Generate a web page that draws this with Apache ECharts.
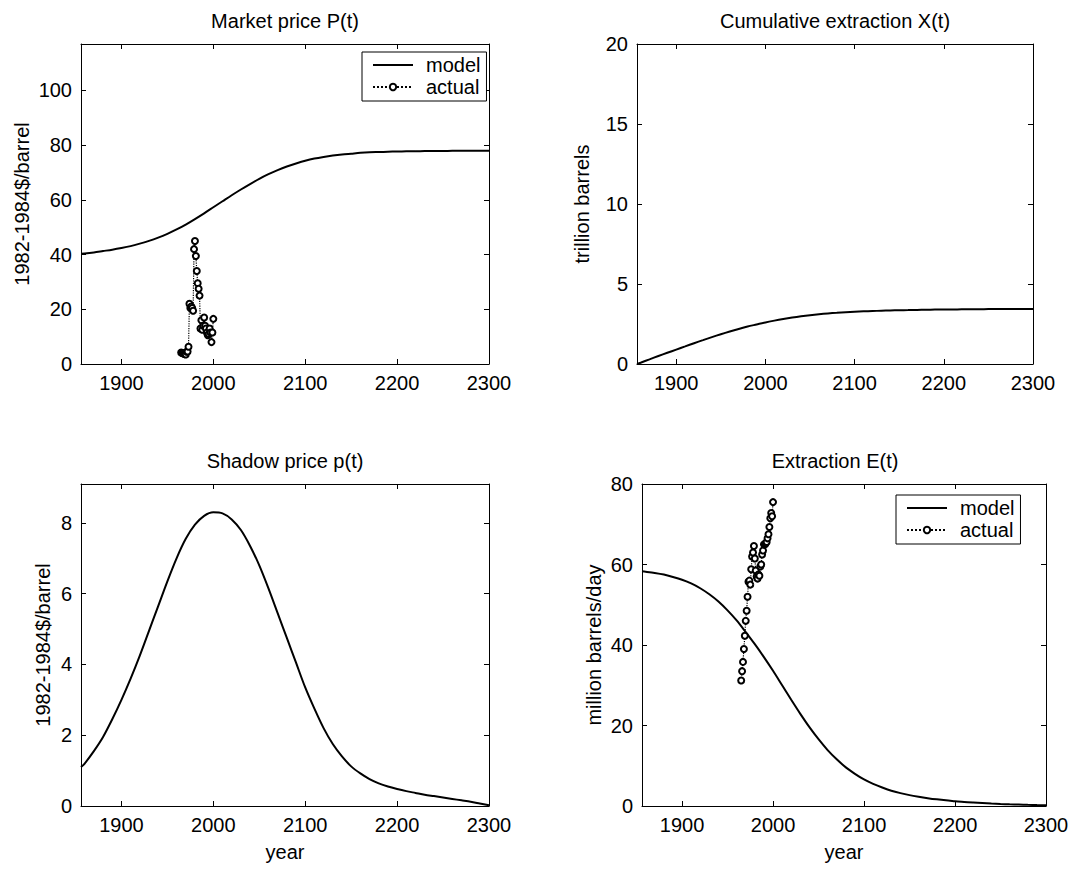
<!DOCTYPE html>
<html><head><meta charset="utf-8">
<script src="https://cdn.jsdelivr.net/npm/echarts@6/dist/echarts.min.js"></script>
<style>html,body{margin:0;padding:0;background:#fff}#c{width:1080px;height:870px}</style>
</head><body><div id="c"></div>
<script>
// ---------- data ----------
const modelYears = [1856,1860,1870,1880,1890,1900,1910,1920,1930,1940,1950,1960,1970,1980,1990,2000,2010,2020,2030,2040,2050,2060,2070,2080,2090,2100,2110,2120,2130,2140,2150,2160,2170,2180,2190,2200,2210,2220,2230,2240,2250,2260,2270,2280,2290,2300];
const marketPrice = [40.3,40.4,40.8,41.3,41.8,42.4,43.1,44.0,45.0,46.2,47.6,49.2,51.0,53.0,55.1,57.3,59.5,61.7,63.8,65.8,67.7,69.4,70.9,72.2,73.3,74.3,75.1,75.7,76.2,76.6,76.9,77.2,77.4,77.5,77.6,77.7,77.75,77.8,77.85,77.88,77.9,77.93,77.95,77.97,77.98,78.0];
const cumulativeX = [0,0.08,0.29,0.5,0.7,0.9,1.1,1.3,1.49,1.68,1.86,2.03,2.19,2.34,2.47,2.6,2.71,2.81,2.9,2.98,3.05,3.11,3.16,3.2,3.24,3.27,3.29,3.31,3.33,3.345,3.36,3.37,3.38,3.39,3.4,3.405,3.41,3.415,3.42,3.425,3.43,3.433,3.436,3.439,3.442,3.445];
const shadowPrice = [1.1,1.2,1.55,1.95,2.45,3.0,3.6,4.25,4.95,5.65,6.35,7.0,7.55,7.95,8.2,8.3,8.27,8.1,7.8,7.35,6.8,6.15,5.45,4.75,4.05,3.35,2.75,2.2,1.75,1.4,1.12,0.92,0.76,0.64,0.55,0.48,0.42,0.37,0.32,0.28,0.24,0.2,0.16,0.12,0.07,0.02];
const extractionE = [58.3,58.2,57.9,57.5,56.9,56.2,55.3,54.1,52.6,50.8,48.6,46.1,43.2,40.2,37.0,33.6,30.0,26.4,22.9,19.6,16.6,13.9,11.6,9.6,8.0,6.6,5.5,4.6,3.8,3.2,2.7,2.3,1.95,1.65,1.4,1.2,1.0,0.85,0.72,0.6,0.5,0.42,0.35,0.28,0.22,0.17];

const actualYears = [1965,1966,1967,1968,1969,1970,1971,1972,1973,1974,1975,1976,1977,1978,1979,1980,1981,1982,1983,1984,1985,1986,1987,1988,1989,1990,1991,1992,1993,1994,1995,1996,1997,1998,1999,2000];
const actualPrice = [4.2,4.0,3.9,3.7,3.6,3.5,4.5,4.6,6.3,22,20.5,21,20.5,19.5,42,45,39.5,34,29.5,27.5,25,13,16,12.5,14,17,14,13,11.5,10.5,11,13,11.5,8,11.5,16.5];
const actualExtraction = [31.2,33.5,35.8,39.0,42.3,46.0,48.5,52.0,55.7,56.0,55.0,58.8,62.0,63.0,64.6,61.5,58.5,57.0,56.5,57.5,57.2,59.5,60.0,62.5,63.5,65.0,65.0,65.3,65.6,66.5,67.5,69.3,71.5,72.8,72.0,75.5];

const xTicks = [1900,2000,2100,2200,2300];
const yTicks = [[0,20,40,60,80,100],[0,5,10,15,20],[0,2,4,6,8],[0,20,40,60,80]];
const yMax = [117,20,9.1,80];
const titles = ['Market price P(t)','Cumulative extraction X(t)','Shadow price p(t)','Extraction E(t)'];
const yNames = ['1982-1984$/barrel','trillion barrels','1982-1984$/barrel','million barrels/day'];
const legendNames = ['model','actual'];

// ---------- layout ----------
const FONT = '"Liberation Sans", Arial, sans-serif';
const grids = [
  {left:81, top:44, width:408, height:320},
  {left:637, top:44, width:396, height:320},
  {left:81, top:484, width:408, height:322},
  {left:642, top:484, width:404, height:322}
];
const nameGaps = [49,45,28,38];
const titlePos = [[285,21],[835,21],[285,461],[835,461]];

const lineCol = '#000';
const plain = v => String(v);
const xAxes = [], yAxes = [];
grids.forEach((g,i)=>{
  const tickX = {show:true, inside:true, length:5, lineStyle:{color:lineCol}, customValues: xTicks};
  const tickY = {show:true, inside:true, length:5, lineStyle:{color:lineCol}, customValues: yTicks[i]};
  xAxes.push({
    type:'value', gridIndex:i, position:'bottom', min:1856, max:2300,
    axisLine:{show:true, onZero:false, lineStyle:{color:lineCol, width:1}},
    axisTick:tickX, splitLine:{show:false},
    axisLabel:{show:true, customValues:xTicks, formatter:plain, margin:9, color:'#000', fontSize:20, fontFamily:FONT},
    name: i>=2 ? 'year' : '', nameLocation:'middle', nameGap:36,
    nameTextStyle:{color:'#000', fontSize:20, fontFamily:FONT}
  });
  xAxes.push({
    type:'value', gridIndex:i, position:'top', min:1856, max:2300,
    axisLine:{show:true, onZero:false, lineStyle:{color:lineCol, width:1}},
    axisTick:tickX, splitLine:{show:false}, axisLabel:{show:false}
  });
  yAxes.push({
    type:'value', gridIndex:i, position:'left', min:0, max:yMax[i],
    axisLine:{show:true, onZero:false, lineStyle:{color:lineCol, width:1}},
    axisTick:tickY, splitLine:{show:false},
    axisLabel:{show:true, customValues:yTicks[i], formatter:plain, margin:9, color:'#000', fontSize:20, fontFamily:FONT},
    name:yNames[i], nameLocation:'middle', nameGap:nameGaps[i],
    nameTextStyle:{color:'#000', fontSize:20, fontFamily:FONT}
  });
  yAxes.push({
    type:'value', gridIndex:i, position:'right', min:0, max:yMax[i],
    axisLine:{show:true, onZero:false, lineStyle:{color:lineCol, width:1}},
    axisTick:tickY, splitLine:{show:false}, axisLabel:{show:false}
  });
});

const modelSets = [marketPrice, cumulativeX, shadowPrice, extractionE];
const series = [];
modelSets.forEach((arr,i)=>{
  series.push({
    name:'model', type:'line', xAxisIndex:2*i, yAxisIndex:2*i,
    data: modelYears.map((yr,k)=>[yr, arr[k]]),
    symbol:'none', smooth:0.3, lineStyle:{color:'#000', width:2}, itemStyle:{color:'#000'},
    animation:false, z:3
  });
});
const actualSets = [[0, actualPrice],[3, actualExtraction]];
actualSets.forEach(([i,arr])=>{
  series.push({
    name:'actual', type:'line', xAxisIndex:2*i, yAxisIndex:2*i,
    data: actualYears.map((yr,k)=>[yr, arr[k]]),
    symbol:'emptyCircle', symbolSize:6, showSymbol:true,
    lineStyle:{color:'#000', width:1.2, type:'dotted'},
    itemStyle:{color:'#000', borderColor:'#000', borderWidth:1.5},
    animation:false, z:4
  });
});

const legendBase = {
  orient:'vertical',
  data: [{name:legendNames[0], itemStyle:{opacity:0}}, {name:legendNames[1]}],
  itemWidth:40, itemHeight:8, itemGap:2,
  backgroundColor:'#fff', borderColor:'#000', borderWidth:1, padding:[3,6,4,10],
  textStyle:{color:'#000', fontSize:20, fontFamily:FONT, padding:[0,0,0,8]},
  selectedMode:false
};

const graphic = titles.map((t,i)=>({
  type:'text', x:titlePos[i][0], y:titlePos[i][1], silent:true,
  style:{text:t, font:'20px ' + FONT, fill:'#000', align:'center', verticalAlign:'middle'}
}));

const chart = echarts.init(document.getElementById('c'), null, {renderer:'svg', width:1080, height:870});
chart.setOption({
  backgroundColor:'#fff',
  animation:false,
  grid: grids.map(g=>Object.assign({containLabel:false}, g)),
  xAxis: xAxes, yAxis: yAxes,
  legend: [
    Object.assign({left:362, top:52}, legendBase),
    Object.assign({left:896, top:495}, legendBase)
  ],
  graphic: graphic,
  series: series
});
</script></body></html>
